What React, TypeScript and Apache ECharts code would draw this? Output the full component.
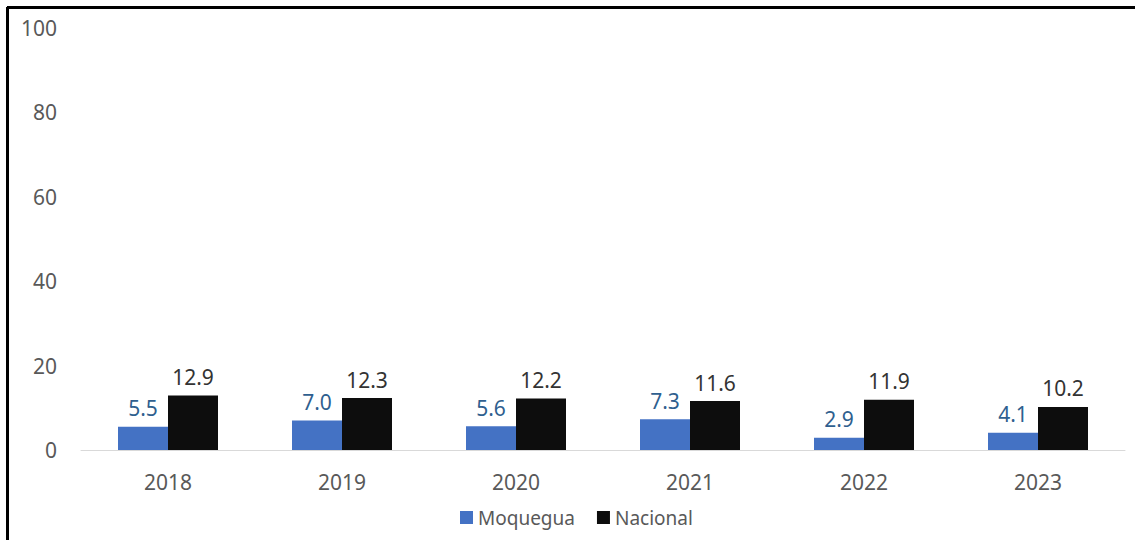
import React, { useEffect, useRef } from "react";
import * as echarts from "echarts";

const categories = ["2018", "2019", "2020", "2021", "2022", "2023"];
const moquegua = [5.5, 7.0, 5.6, 7.3, 2.9, 4.1];
const nacional = [12.9, 12.3, 12.2, 11.6, 11.9, 10.2];
const yTicks = { min: 0, max: 100, interval: 20 };

export default function App() {
  const ref = useRef<HTMLDivElement>(null);
  useEffect(() => {
    if (!ref.current) return;
    const chart = echarts.init(ref.current, null, { renderer: "svg" });
    const font = "'Noto Sans', 'Liberation Sans', sans-serif";
    chart.setOption({
      animation: false,
      backgroundColor: "#ffffff",
      textStyle: { fontFamily: font },
      grid: { left: 81, right: 10, top: 28, bottom: 90, containLabel: false },
      graphic: [
        { type: "line", shape: { x1: 7, y1: 7.5, x2: 1135, y2: 7.5 }, style: { stroke: "#000", lineWidth: 3 } },
        { type: "line", shape: { x1: 7.5, y1: 7, x2: 7.5, y2: 540 }, style: { stroke: "#000", lineWidth: 3 } },
      ],
      legend: {
        bottom: 8,
        left: 455,
        itemWidth: 13,
        itemHeight: 13,
        itemGap: 22,
        icon: "rect",
        textStyle: { color: "#595959", fontSize: 19, fontFamily: font },
        data: ["Moquegua", "Nacional"],
      },
      xAxis: {
        type: "category",
        data: categories,
        axisLine: { show: true, lineStyle: { color: "#d9d9d9", width: 1 } },
        axisTick: { show: false },
        axisLabel: { color: "#595959", fontSize: 21, margin: 21, fontFamily: font },
      },
      yAxis: {
        type: "value",
        min: yTicks.min,
        max: yTicks.max,
        interval: yTicks.interval,
        splitLine: { show: false },
        axisLine: { show: false },
        axisTick: { show: false },
        axisLabel: { color: "#595959", fontSize: 21, margin: 24, fontFamily: font },
      },
      series: [
        {
          name: "Moquegua",
          type: "bar",
          data: moquegua,
          barWidth: 50,
          barGap: "0%",
          itemStyle: { color: "#4472C4" },
          label: {
            show: true,
            position: "top",
            distance: 8,
            color: "#2F5F8F",
            fontSize: 21,
            fontFamily: font,
            formatter: (p: any) => Number(p.value).toFixed(1),
          },
        },
        {
          name: "Nacional",
          type: "bar",
          data: nacional,
          barWidth: 50,
          barGap: "0%",
          itemStyle: { color: "#0D0D0D" },
          label: {
            show: true,
            position: "top",
            distance: 8,
            color: "#333333",
            fontSize: 21,
            fontFamily: font,
            formatter: (p: any) => Number(p.value).toFixed(1),
          },
        },
      ],
    });
    return () => chart.dispose();
  }, []);
  return (
    <div style={{ position: "fixed", left: 0, top: 0, width: 1135, height: 540, overflow: "hidden" }}>
      <div ref={ref} style={{ width: 1135, height: 540 }} />
    </div>
  );
}
